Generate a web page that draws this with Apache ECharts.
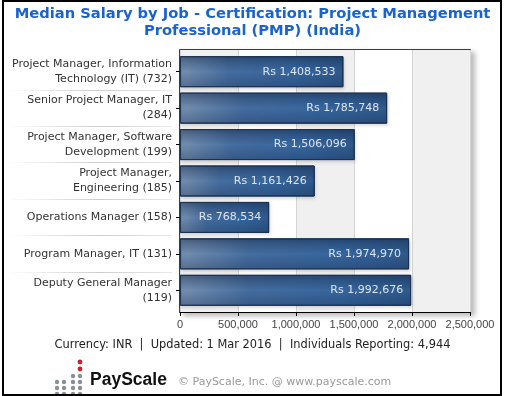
<!DOCTYPE html>
<html>
<head>
<meta charset="utf-8">
<title>Median Salary by Job - PMP (India)</title>
<script src="https://cdn.jsdelivr.net/npm/echarts/dist/echarts.min.js"></script>
<style>
  html, body { margin: 0; padding: 0; background: #fff; }
  #main { width: 505px; height: 396px; }
</style>
</head>
<body>
<div id="main"></div>
<script>
// jobs (with number reporting) and median salary, Rs
var jobs = [
  'Project Manager, Information\nTechnology (IT) (732)',
  'Senior Project Manager, IT\n(284)',
  'Project Manager, Software\nDevelopment (199)',
  'Project Manager,\nEngineering (185)',
  'Operations Manager (158)',
  'Program Manager, IT (131)',
  'Deputy General Manager\n(119)'
];
var salaries = [1408533, 1785748, 1506096, 1161426, 768534, 1974970, 1992676];

// x axis ticks
var xMin = 0;
var xMax = 2500000;
var xStep = 500000;

var titleText = 'Median Salary by Job - Certification: Project Management\nProfessional (PMP) (India)';
var footerText = 'Currency: INR  |  Updated: 1 Mar 2016  |  Individuals Reporting: 4,944';
var copyText = '\u00a9 PayScale, Inc. @ www.payscale.com';

function commas(n) {
  return String(Math.round(n)).replace(/\B(?=(\d{3})+(?!\d))/g, ',');
}

var FONT = '"DejaVu Sans", Verdana, sans-serif';

// logo dots (decoration)
var dots = [];
var cols = [57, 64, 73, 80];
var rows = [376, 382, 388, 394];
for (var r = 0; r < rows.length; r++) {
  for (var c = 0; c < cols.length; c++) {
    if (r == 0 && c < 2) continue;
    dots.push({ type: 'circle', shape: { cx: cols[c], cy: rows[r], r: 2.2 }, style: { fill: '#8a8f96' } });
  }
}
dots.push({ type: 'circle', shape: { cx: 80, cy: 362, r: 2.4 }, style: { fill: '#c0262d' } });
dots.push({ type: 'circle', shape: { cx: 80, cy: 369, r: 2.4 }, style: { fill: '#c0262d' } });

var myChart = echarts.init(document.getElementById('main'));
var option = {
  animation: false,
  backgroundColor: '#fff',
  title: {
    text: titleText,
    left: 'center',
    top: 0,
    textStyle: { fontFamily: FONT, fontSize: 14.7, fontWeight: 'bold', color: '#1a63cf', lineHeight: 17.5 }
  },
  grid: [
    // frame with bands
    { left: 180, right: 35, top: 50, bottom: 84, show: true, backgroundColor: '#fff',
      borderColor: '#000', borderWidth: 1.5,
      shadowColor: 'rgba(0,0,0,0.25)', shadowBlur: 5, shadowOffsetX: 4, shadowOffsetY: 3 },
    // bars, category centres from 71.7 to 290.3
    { left: 180, right: 35, top: 71.7, bottom: 105.7 },
    // separators between the labels
    { left: 10, width: 162, top: 89.9, bottom: 124 }
  ],
  xAxis: [
    { gridIndex: 0, type: 'value', min: xMin, max: xMax, interval: xStep,
      axisLine: { show: true, lineStyle: { color: '#000', width: 1 } },
      axisTick: { show: true, length: 4, lineStyle: { color: '#000' } },
      axisLabel: { color: '#444', fontFamily: '"Liberation Sans", Arial, sans-serif', fontSize: 11, margin: 7,
        formatter: function (v) { return commas(v); } },
      splitLine: { show: true, lineStyle: { color: '#d4d4d4' } },
      splitArea: { show: true, areaStyle: { color: ['#f0f0f0', '#ffffff'] } } },
    { gridIndex: 1, type: 'value', min: xMin, max: xMax, show: false },
    { gridIndex: 2, type: 'value', show: false }
  ],
  yAxis: [
    { gridIndex: 0, type: 'value', show: false },
    { gridIndex: 1, type: 'category', data: jobs, inverse: true, boundaryGap: false,
      axisLine: { show: false },
      axisTick: { show: true, length: 4, lineStyle: { color: '#000' } },
      axisLabel: { color: '#333', fontFamily: FONT, fontSize: 11, lineHeight: 15, margin: 8, align: 'right' },
      splitLine: { show: true, lineStyle: { color: '#d4d4d4' } } },
    { gridIndex: 2, type: 'category', data: jobs.slice(1), inverse: true, boundaryGap: false,
      axisLine: { show: false }, axisTick: { show: false }, axisLabel: { show: false },
      splitLine: { show: true, lineStyle: {
        color: new echarts.graphic.LinearGradient(0, 0, 1, 0, [
          { offset: 0, color: 'rgba(205,205,205,0)' },
          { offset: 0.55, color: 'rgba(205,205,205,1)' },
          { offset: 1, color: 'rgba(205,205,205,0.4)' }
        ]) } } }
  ],
  series: [
    {
      name: 'Median Salary',
      type: 'bar',
      xAxisIndex: 1,
      yAxisIndex: 1,
      data: salaries,
      barWidth: 31,
      itemStyle: {
        color: new echarts.graphic.LinearGradient(0, 0, 1, 0, [
          { offset: 0, color: '#7690b0' },
          { offset: 0.3, color: '#456d9f' },
          { offset: 0.7, color: '#36669e' },
          { offset: 1, color: '#2f5a8c' }
        ]),
        borderColor: '#1b3253',
        borderWidth: 1,
        shadowColor: 'rgba(0,0,0,0.15)',
        shadowBlur: 3,
        shadowOffsetX: 1,
        shadowOffsetY: 2
      }
    },
    {
      name: 'shade',
      type: 'bar',
      xAxisIndex: 1,
      yAxisIndex: 1,
      data: salaries,
      barWidth: 31,
      barGap: '-100%',
      silent: true,
      itemStyle: {
        color: new echarts.graphic.LinearGradient(0, 0, 0, 1, [
          { offset: 0, color: 'rgba(15,30,60,0.4)' },
          { offset: 0.5, color: 'rgba(15,30,60,0)' },
          { offset: 1, color: 'rgba(15,30,60,0.28)' }
        ]),
        borderColor: '#1b3253',
        borderWidth: 1
      },
      label: {
        show: true,
        position: 'insideRight',
        distance: 8,
        color: '#dde4ee',
        fontFamily: FONT,
        fontSize: 11,
        formatter: function (p) { return 'Rs ' + commas(p.value); }
      }
    }
  ],
  graphic: [
    { type: 'rect', shape: { x: 3, y: 1, width: 498, height: 394 }, style: { fill: 'none', stroke: '#000', lineWidth: 2 }, z: 100 },
    { type: 'text', left: 'center', top: 340, style: { text: footerText, fill: '#222', font: '11.4px ' + FONT } },
    { type: 'text', x: 90, y: 371, style: { text: 'PayScale', fill: '#111', font: 'bold 17.5px "Liberation Sans", Arial, sans-serif' } },
    { type: 'text', x: 178, y: 377, style: { text: copyText, fill: '#999', font: '11px ' + FONT } }
  ].concat(dots)
};
myChart.setOption(option);
</script>
</body>
</html>
